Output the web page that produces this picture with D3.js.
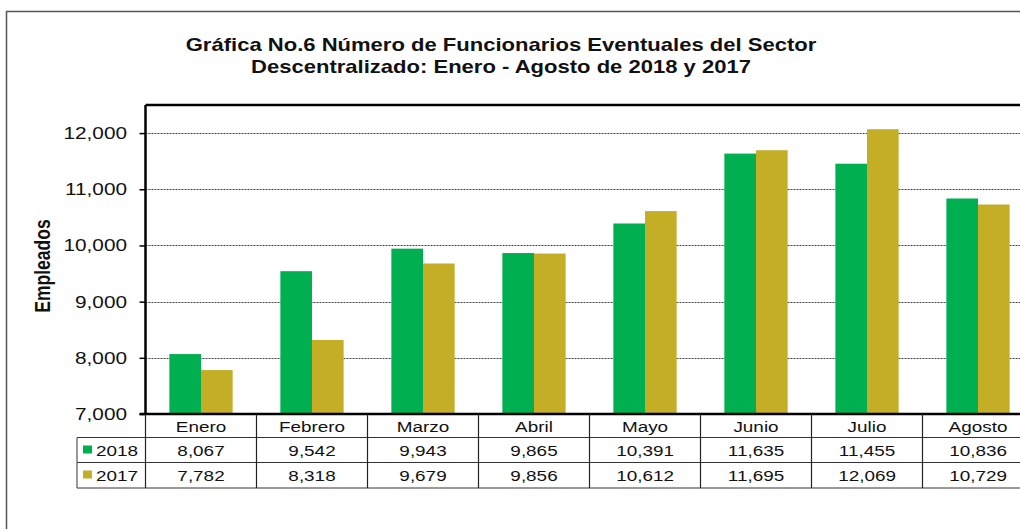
<!DOCTYPE html>
<html>
<head>
<meta charset="utf-8">
<script src="https://cdn.jsdelivr.net/npm/d3@7"></script>
<style>
  body { margin: 0; background: #fff; }
  svg { display: block; font-family: "Liberation Sans", Arial, sans-serif; }
</style>
</head>
<body>
<div id="chart"></div>
<script>
// data
var months = ["Enero", "Febrero", "Marzo", "Abril", "Mayo", "Junio", "Julio", "Agosto"];
var series = ["2018", "2017"];
var v2018 = [8067, 9542, 9943, 9865, 10391, 11635, 11455, 10836];
var v2017 = [7782, 8318, 9679, 9856, 10612, 11695, 12069, 10729];
var yTicks = [7000, 8000, 9000, 10000, 11000, 12000];
var colors = ["#00b050", "#c4ae26"];

var width = 1020, height = 529;
var plotLeft = 145.5, plotTop = 105, plotBottom = 414;
var band = 111;
var stretch = 1.26; // the original picture is a bit wide, text looks stretched

var svg = d3.select("#chart").append("svg")
  .attr("width", width)
  .attr("height", height);

// text drawn with a horizontal stretch
function stext(parent, x, y, txt, size, anchor, bold) {
  var g = parent.append("g")
    .attr("transform", "translate(" + x + "," + y + ") scale(" + stretch + ",1)");
  return g.append("text")
    .attr("text-anchor", anchor || "middle")
    .attr("font-size", size)
    .attr("font-weight", bold ? "bold" : "normal")
    .attr("fill", "#111")
    .text(txt);
}

// outer frame
svg.append("rect")
  .attr("x", 6.5).attr("y", 11.5)
  .attr("width", 1100).attr("height", 600)
  .attr("fill", "none").attr("stroke", "#555").attr("stroke-width", 1.5);

// title
stext(svg, 501, 51, "Gráfica No.6 Número de Funcionarios Eventuales del Sector", 17.5, "middle", true);
stext(svg, 501, 73, "Descentralizado: Enero - Agosto de 2018 y 2017", 17.5, "middle", true);

var x = d3.scaleBand()
  .domain(months)
  .range([plotLeft, plotLeft + band * months.length])
  .paddingInner(0.43).paddingOuter(0.215);

var xs = d3.scaleBand().domain(series).range([0, x.bandwidth()]);

var y = d3.scaleLinear().domain([7000, 12500]).range([plotBottom, plotTop]);

// grid
svg.append("g").selectAll("line")
  .data(yTicks.slice(1))
  .enter().append("line")
  .attr("x1", plotLeft).attr("x2", width)
  .attr("y1", function(d) { return Math.round(y(d)) + 0.5; })
  .attr("y2", function(d) { return Math.round(y(d)) + 0.5; })
  .attr("stroke", "#444").attr("stroke-width", 1)
  .attr("stroke-dasharray", "2,1");

// bars
var groups = svg.append("g").selectAll("g")
  .data(months)
  .enter().append("g")
  .attr("transform", function(d) { return "translate(" + x(d) + ",0)"; });

groups.selectAll("rect")
  .data(function(d, i) {
    return [{s: "2018", v: v2018[i]}, {s: "2017", v: v2017[i]}];
  })
  .enter().append("rect")
  .attr("x", function(d) { return xs(d.s); })
  .attr("width", xs.bandwidth())
  .attr("y", function(d) { return y(d.v); })
  .attr("height", function(d) { return plotBottom - y(d.v); })
  .attr("fill", function(d) { return d.s == "2018" ? colors[0] : colors[1]; });

// y axis ticks + labels
var yAxis = svg.append("g")
  .attr("transform", "translate(" + plotLeft + ",0)")
  .call(d3.axisLeft(y).tickValues(yTicks).tickSize(6).tickFormat(""));
yAxis.select(".domain").remove();
yAxis.selectAll("line").attr("stroke", "#000").attr("stroke-width", 1.5);

var fmt = d3.format(",");
yTicks.forEach(function(t) {
  stext(svg, 127, y(t) + 6, fmt(t), 16.5, "end", false);
});

// plot frame lines
svg.append("line").attr("x1", plotLeft).attr("x2", plotLeft).attr("y1", plotTop).attr("y2", plotBottom)
  .attr("stroke", "#000").attr("stroke-width", 2.5);
svg.append("line").attr("x1", plotLeft).attr("x2", width).attr("y1", plotTop).attr("y2", plotTop)
  .attr("stroke", "#000").attr("stroke-width", 2.5);
svg.append("line").attr("x1", plotLeft - 6).attr("x2", width).attr("y1", plotBottom).attr("y2", plotBottom)
  .attr("stroke", "#000").attr("stroke-width", 2.5);

// y label (rotated, so the stretch goes on its height)
svg.append("g")
  .attr("transform", "translate(50,266) scale(" + stretch + ",1) rotate(-90)")
  .append("text")
  .attr("text-anchor", "middle")
  .attr("font-size", 17.5).attr("font-weight", "bold").attr("fill", "#111")
  .text("Empleados");

// data table
var rowY = [414, 437.5, 462.5, 488];
var tableLeft = 77;
var tableRight = plotLeft + band * months.length;
var tg = svg.append("g");

[rowY[1], rowY[2]].forEach(function(yy) {
  tg.append("line").attr("x1", tableLeft).attr("x2", tableRight)
    .attr("y1", yy).attr("y2", yy).attr("stroke", "#333").attr("stroke-width", 1.2);
});
tg.append("line").attr("x1", tableLeft).attr("x2", tableRight)
  .attr("y1", rowY[3]).attr("y2", rowY[3]).attr("stroke", "#777").attr("stroke-width", 1.5);

tg.append("line").attr("x1", tableLeft).attr("x2", tableLeft)
  .attr("y1", rowY[1]).attr("y2", rowY[3]).attr("stroke", "#555").attr("stroke-width", 1.2);
tg.selectAll(".vl").data(d3.range(months.length + 1)).enter().append("line")
  .attr("x1", function(i) { return plotLeft + band * i; })
  .attr("x2", function(i) { return plotLeft + band * i; })
  .attr("y1", rowY[0]).attr("y2", rowY[3])
  .attr("stroke", "#222").attr("stroke-width", 1.2);

months.forEach(function(m) {
  stext(tg, x(m) + x.bandwidth() / 2, rowY[0] + 18, m, 15, "middle", false);
});

[v2018, v2017].forEach(function(vals, r) {
  vals.forEach(function(v, i) {
    stext(tg, x(months[i]) + x.bandwidth() / 2, rowY[r + 1] + 18, fmt(v), 15, "middle", false);
  });
  tg.append("rect")
    .attr("x", 83).attr("y", rowY[r + 1] + 8)
    .attr("width", 9).attr("height", 8)
    .attr("fill", colors[r]);
  stext(tg, 96, rowY[r + 1] + 18, series[r], 15, "start", false);
});
</script>
</body>
</html>
